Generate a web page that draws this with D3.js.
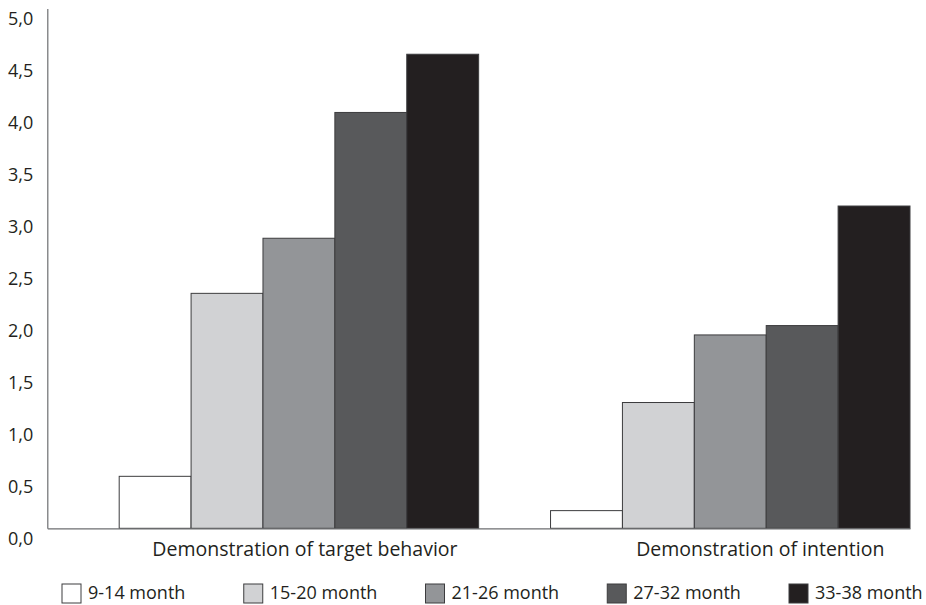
<!DOCTYPE html>
<html>
<head>
<meta charset="utf-8">
<script src="https://cdn.jsdelivr.net/npm/d3@7/dist/d3.min.js"></script>
<style>
  html, body { margin: 0; padding: 0; background: #fff; }
  svg { display: block; }
  text { font-family: "Open Sans", "Noto Sans", sans-serif; fill: #231f20; }
</style>
</head>
<body>
<svg id="chart" width="926" height="605"></svg>
<script>
// ---- data ----
const categories = ["Demonstration of target behavior", "Demonstration of intention"];
const ageGroups = ["9-14 month", "15-20 month", "21-26 month", "27-32 month", "33-38 month"];
const targetBehavior = [0.50, 2.26, 2.79, 4.00, 4.56];
const intention = [0.17, 1.21, 1.86, 1.95, 3.10];
const yTickValues = [0, 0.5, 1, 1.5, 2, 2.5, 3, 3.5, 4, 4.5, 5];
const yTickLabels = ["0,0", "0,5", "1,0", "1,5", "2,0", "2,5", "3,0", "3,5", "4,0", "4,5", "5,0"];

// ---- styles ----
const fills = ["#ffffff", "#d1d2d4", "#939598", "#58595b", "#231f20"];
const labelShift = [6, 30];

const seriesByCategory = [targetBehavior, intention];
const table = categories.map((c, ci) => ({
  category: c,
  values: ageGroups.map((g, gi) => ({ group: g, value: seriesByCategory[ci][gi] }))
}));

const svg = d3.select("#chart");
const plotLeft = 47.3, plotRight = 910, plotTop = 8.5, plotBottom = 528.3;

const y = d3.scaleLinear().domain([0, 5]).range([plotBottom, plotTop]);
const x0 = d3.scaleBand().domain(categories).range([plotLeft, plotRight]).padding(0);
const bw = x0.bandwidth();
const x1 = d3.scaleBand().domain(ageGroups).range([bw / 6, bw]).padding(0);

// bars
const groups = svg.append("g").selectAll("g").data(table).join("g")
  .attr("transform", d => `translate(${x0(d.category)},0)`);
groups.selectAll("rect").data(d => d.values).join("rect")
  .attr("x", d => x1(d.group))
  .attr("width", x1.bandwidth())
  .attr("y", d => y(d.value))
  .attr("height", d => y(0) - y(d.value))
  .attr("fill", (d, i) => fills[i])
  .attr("stroke", "#3c3c3e")
  .attr("stroke-width", 1);

// y axis
const yAxis = d3.axisLeft(y).tickValues(yTickValues)
  .tickFormat((d, i) => yTickLabels[i]).tickSize(0).tickPadding(14);
const gy = svg.append("g").attr("transform", `translate(${plotLeft},0)`).call(yAxis);
gy.select(".domain").attr("stroke", "#6d6e71").attr("stroke-width", 1.2);
gy.selectAll("text").attr("dy", "0.88em").style("font-size", "18px")
  .style("font-family", "'Open Sans', sans-serif").attr("fill", "#231f20");

// x axis (baseline)
const xAxis = d3.axisBottom(x0).tickSize(0).tickFormat("");
const gx = svg.append("g").attr("transform", `translate(0,${y(0)})`).call(xAxis);
gx.select(".domain").attr("stroke", "#6d6e71").attr("stroke-width", 1.2);

// category labels centered on bar groups
svg.append("g").selectAll("text").data(categories).join("text")
  .attr("x", (d, i) => x0(d) + (x1.range()[0] + x1.range()[1]) / 2 + labelShift[i])
  .attr("y", y(0) + 28)
  .attr("text-anchor", "middle")
  .style("font-size", "19.5px")
  .text(d => d);

// legend
const lx = d3.scalePoint().domain(ageGroups).range([62, 789]);
const leg = svg.append("g").selectAll("g").data(ageGroups).join("g")
  .attr("transform", d => `translate(${lx(d)},584)`);
leg.append("rect").attr("width", 19).attr("height", 19)
  .attr("fill", (d, i) => fills[i]).attr("stroke", "#3c3c3e").attr("stroke-width", 1);
leg.append("text").attr("x", 26).attr("y", 15)
  .style("font-size", "18px").text(d => d);
</script>
</body>
</html>
